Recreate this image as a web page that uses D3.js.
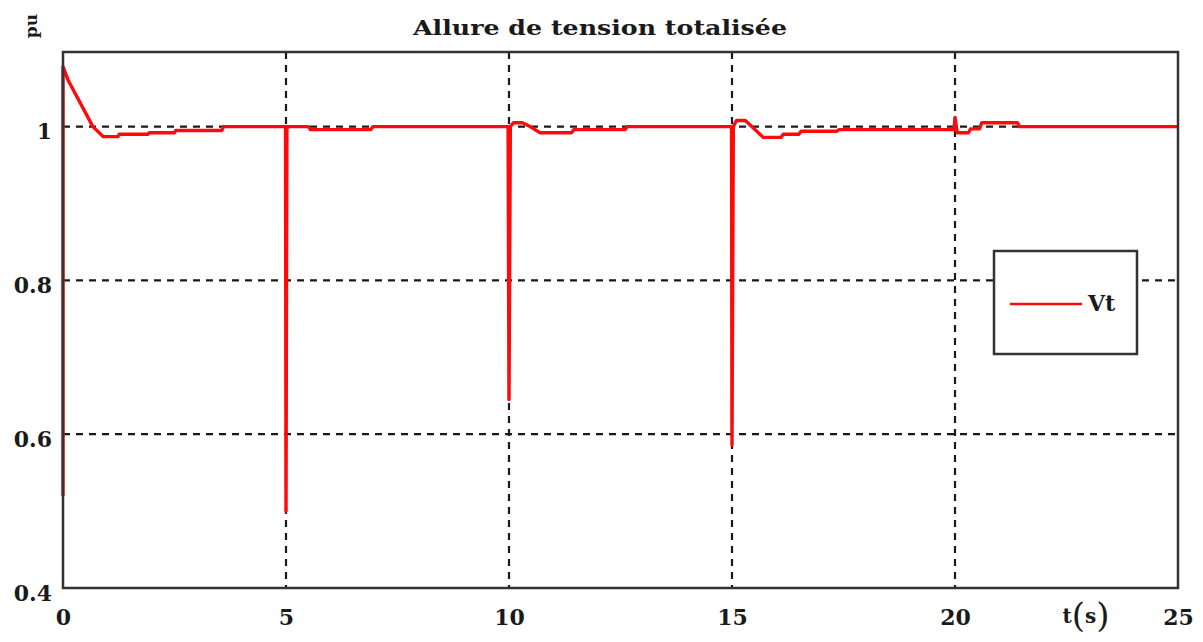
<!DOCTYPE html>
<html>
<head>
<meta charset="utf-8">
<script src="https://cdn.jsdelivr.net/npm/d3@7"></script>
<style>
  html, body { margin: 0; padding: 0; background: #fff; }
  text { font-family: "DejaVu Serif", serif; font-weight: bold; fill: #1a1a1a; }
</style>
</head>
<body>
<svg id="chart" width="1203" height="642"></svg>
<script>
// ---- data ----
const title = "Allure de tension totalisée";
const yLabel = "pu";
const xLabel = "t";
const xUnit = "s";
const seriesName = "Vt";
const xTicks = [0, 5, 10, 15, 20, 25];
const yTicks = [0.4, 0.6, 0.8, 1];
const xGrid = [5, 10, 15, 20];
const yGrid = [0.6, 0.8, 1];
const tValues = [0, 0, 0.11, 0.67, 0.9, 1.23, 1.26, 1.9, 1.93, 2.5, 2.53, 3.56, 3.6,
  4.99, 5.0, 5.02, 5.5, 5.55, 6.9, 6.95,
  9.98, 10.0, 10.03, 10.1, 10.3, 10.47, 10.7, 11.4, 11.45, 12.6, 12.65,
  14.99, 15.0, 15.03, 15.1, 15.3, 15.7, 16.1, 16.15, 16.5, 16.55, 17.35, 17.4,
  19.98, 20.0, 20.05, 20.3, 20.35, 20.55, 20.6, 21.4, 21.45, 25];
const vtValues = [0.52, 1.078, 1.061, 1.0, 0.987, 0.987, 0.99, 0.99, 0.992, 0.992, 0.995, 0.995, 1.0,
  1.0, 0.50, 1.0, 1.0, 0.996, 0.996, 1.0,
  1.0, 0.645, 1.0, 1.005, 1.005, 1.0, 0.992, 0.992, 0.996, 0.996, 1.0,
  1.0, 0.586, 1.0, 1.008, 1.008, 0.986, 0.986, 0.99, 0.99, 0.994, 0.994, 0.996,
  0.996, 1.012, 0.992, 0.992, 0.997, 0.997, 1.005, 1.005, 1.0, 1.0];

// ---- layout ----
const svg = d3.select("#chart");
const L = 63, R = 1178, T = 52, B = 588;
const x = d3.scaleLinear().domain([0, 25]).range([L, R]);
const y = d3.scaleLinear().domain([0.4, 1.097]).range([B, T]);

// grid
const grid = svg.append("g").attr("stroke", "#1a1a1a").attr("stroke-width", 2.2)
  .attr("stroke-dasharray", "7,6");
grid.selectAll("line.v").data(xGrid).join("line").attr("class", "v")
  .attr("x1", d => x(d)).attr("x2", d => x(d)).attr("y1", T).attr("y2", B);
grid.selectAll("line.h").data(yGrid).join("line").attr("class", "h")
  .attr("x1", L).attr("x2", R).attr("y1", d => y(d)).attr("y2", d => y(d));

// curve
const pts = tValues.map((t, i) => [t, vtValues[i]]);
svg.append("path").datum(pts)
  .attr("fill", "none").attr("stroke", "#ff0a0a").attr("stroke-width", 3.4)
  .attr("stroke-linejoin", "round")
  .attr("d", d3.line().x(d => x(d[0])).y(d => y(d[1])));

// frame
svg.append("rect").attr("x", L).attr("y", T).attr("width", R - L).attr("height", B - T)
  .attr("fill", "none").attr("stroke", "#333").attr("stroke-width", 2.5);

// axes labels via d3 axes (no domain/ticks lines)
const xAxis = svg.append("g").attr("transform", `translate(0,${B + 18})`)
  .call(d3.axisBottom(x).tickValues(xTicks).tickSize(0).tickFormat(d3.format("d")));
xAxis.select(".domain").remove();
xAxis.selectAll("text").attr("font-size", 22).attr("font-family", "DejaVu Serif")
  .attr("font-weight", "bold").attr("fill", "#1a1a1a");

const yAxis = svg.append("g").attr("transform", `translate(${L - 8},0)`)
  .call(d3.axisLeft(y).tickValues(yTicks).tickSize(0).tickFormat(d => d === 1 ? "1" : d3.format(".1f")(d)));
yAxis.select(".domain").remove();
yAxis.selectAll("text").attr("font-size", 22).attr("font-family", "DejaVu Serif")
  .attr("font-weight", "bold").attr("fill", "#1a1a1a").attr("dy", "0.55em");

// title
svg.append("text").attr("x", 600).attr("y", 35).attr("text-anchor", "middle")
  .attr("font-size", 21).attr("textLength", 374).attr("lengthAdjust", "spacingAndGlyphs")
  .text(title);

// y label
svg.append("text").attr("transform", "translate(37,26) rotate(-90)")
  .attr("text-anchor", "middle").attr("font-size", 17).text(yLabel);

// x label t(s)
const xl = svg.append("text").attr("x", 1086).attr("y", 623).attr("text-anchor", "middle")
  .attr("font-size", 20);
xl.append("tspan").text(xLabel);
xl.append("tspan").attr("font-size", 34).attr("font-weight", "normal").attr("dy", 4).text("(");
xl.append("tspan").attr("font-size", 20).attr("dy", -4).text(xUnit);
xl.append("tspan").attr("font-size", 34).attr("font-weight", "normal").attr("dy", 4).text(")");

// legend
const lg = svg.append("g");
lg.append("rect").attr("x", 994).attr("y", 251).attr("width", 143).attr("height", 103)
  .attr("fill", "#fff").attr("stroke", "#333").attr("stroke-width", 2.5);
lg.append("line").attr("x1", 1010).attr("x2", 1082).attr("y1", 304).attr("y2", 304)
  .attr("stroke", "#ff0a0a").attr("stroke-width", 2.5);
lg.append("text").attr("x", 1088).attr("y", 311).attr("font-size", 22).text(seriesName);
</script>
</body>
</html>
